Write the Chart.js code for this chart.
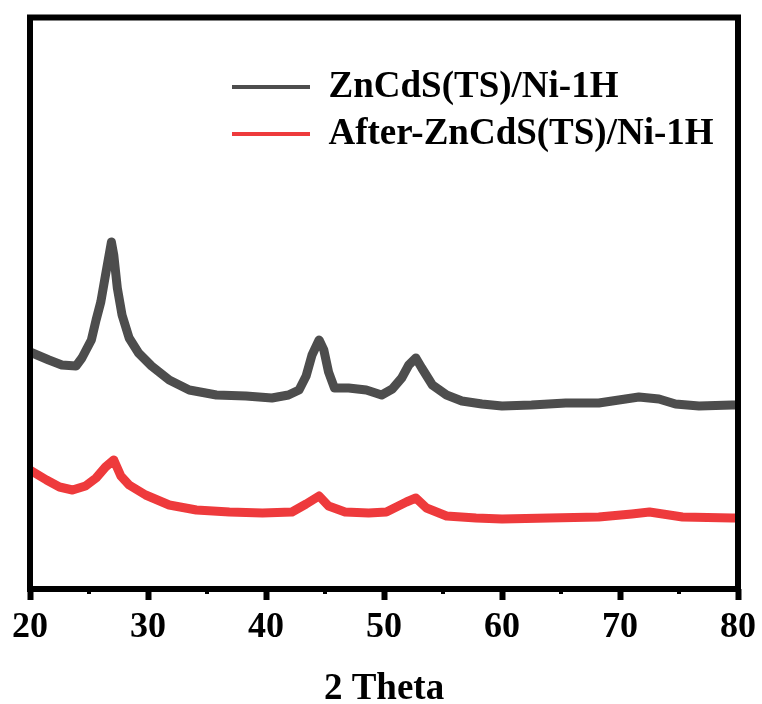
<!DOCTYPE html>
<html>
<head>
<meta charset="utf-8">
<script src="https://cdn.jsdelivr.net/npm/chart.js@4.4.0/dist/chart.umd.min.js"></script>
<style>
  body { margin: 0; background: #fff; }
</style>
</head>
<body>
<canvas id="xrdChart" width="762" height="704"></canvas>
<script>
// 2 theta positions and intensities (a.u.)
var grayTheta = [20.0, 21.6, 22.7, 23.9, 24.4, 25.2, 25.6, 26.0, 26.4, 26.9, 27.1, 27.4, 27.8, 28.4, 29.2, 30.3, 31.8, 33.5, 35.8, 38.3,
  40.5, 41.9, 42.8, 43.4, 43.9, 44.5, 44.9, 45.3, 45.8, 47.0, 48.5, 49.8, 50.7, 51.5, 52.1, 52.7, 53.2, 54.1, 55.3, 56.6,
  58.3, 60.0, 62.5, 65.4, 68.2, 69.9, 71.6, 73.3, 74.7, 76.7, 79.5, 80.0];
var grayCounts = [237, 229, 224, 223, 231, 249, 269, 287, 314, 347, 334, 301, 274, 251, 236, 223, 209, 199, 194, 193,
  191, 194, 199, 213, 234, 249, 239, 217, 201, 201, 199, 194, 200, 211, 224, 231, 221, 204, 194, 188,
  185, 183, 184, 186, 186, 189, 192, 190, 185, 183, 184, 184];

var redTheta = [20.0, 21.4, 22.5, 23.6, 24.7, 25.6, 26.4, 27.1, 27.7, 28.4, 29.8, 31.8, 34.1, 36.9, 39.7, 42.2, 43.4, 44.5,
  45.3, 46.7, 48.7, 50.2, 51.9, 52.7, 53.6, 55.3, 57.8, 60.0, 64.0, 68.2, 71.0, 72.5, 75.3, 79.5, 80.0];
var redCounts = [119, 109, 102, 99, 103, 111, 122, 129, 113, 104, 94, 84, 79, 77, 76, 77, 85, 93,
  83, 77, 76, 77, 87, 91, 81, 73, 71, 70, 71, 72, 75, 77, 72, 71, 71];

var seriesNames = ["ZnCdS(TS)/Ni-1H", "After-ZnCdS(TS)/Ni-1H"];
var minorTicks = [25, 35, 45, 55, 65, 75];

function toPoints(xs, ys) {
  return xs.map(function (x, i) { return { x: x, y: ys[i] }; });
}

Chart.defaults.font.family = "'Liberation Serif', 'Times New Roman', serif";
Chart.defaults.color = '#000';

// black frame round the plot + the small minor ticks
var framePlugin = {
  id: 'frame',
  afterLayout: function (chart) {
    // put the legend inside the plot
    chart.legend.left = 222;
    chart.legend.top = 58.5;
  },
  afterDraw: function (chart) {
    var a = chart.chartArea;
    var ctx = chart.ctx;
    var xs = chart.scales.x;
    ctx.save();
    ctx.strokeStyle = '#000';
    ctx.lineWidth = 6;
    ctx.strokeRect(a.left, a.top, a.right - a.left, a.bottom - a.top);
    ctx.fillStyle = '#000';
    minorTicks.forEach(function (v) {
      var px = xs.getPixelForValue(v);
      ctx.fillRect(px - 2, a.bottom, 4, 5);
    });
    ctx.restore();
  }
};

var ctx = document.getElementById('xrdChart').getContext('2d');
var chart = new Chart(ctx, {
  type: 'line',
  data: {
    datasets: [{
      label: seriesNames[0],
      data: toPoints(grayTheta, grayCounts),
      borderColor: '#4d4d4d',
      backgroundColor: '#4d4d4d',
      borderWidth: 9,
      borderJoinStyle: 'round',
      pointRadius: 0,
      tension: 0
    }, {
      label: seriesNames[1],
      data: toPoints(redTheta, redCounts),
      borderColor: '#ee3a3c',
      backgroundColor: '#ee3a3c',
      borderWidth: 9,
      borderJoinStyle: 'round',
      pointRadius: 0,
      tension: 0
    }]
  },
  options: {
    responsive: false,
    animation: false,
    layout: { padding: { left: 30, right: 22, top: 17.5, bottom: 0 } },
    scales: {
      x: {
        type: 'linear',
        min: 20,
        max: 80,
        ticks: {
          stepSize: 10,
          padding: 6,
          color: '#000',
          font: { size: 36, weight: 'bold' }
        },
        grid: {
          drawOnChartArea: false,
          tickLength: 11,
          tickWidth: 6,
          tickColor: '#000'
        },
        border: { display: false },
        title: {
          display: true,
          text: '2 Theta',
          color: '#000',
          padding: { top: 0, bottom: 0 },
          font: { size: 37, weight: 'bold', lineHeight: 0.8 }
        },
        afterFit: function (scale) { scale.height = 115; }
      },
      y: {
        display: false,
        min: 0,
        max: 571.5
      }
    },
    plugins: {
      legend: {
        position: 'chartArea',
        align: 'start',
        labels: {
          boxWidth: 78,
          boxHeight: 4,
          padding: 10,
          color: '#000',
          font: { size: 37, weight: 'bold' },
          generateLabels: function (chart) {
            var items = Chart.defaults.plugins.legend.labels.generateLabels(chart);
            items.forEach(function (it) { it.lineWidth = 0; it.fillStyle = it.strokeStyle; });
            return items;
          }
        }
      },
      tooltip: { enabled: false }
    }
  },
  plugins: [framePlugin]
});
</script>
</body>
</html>
